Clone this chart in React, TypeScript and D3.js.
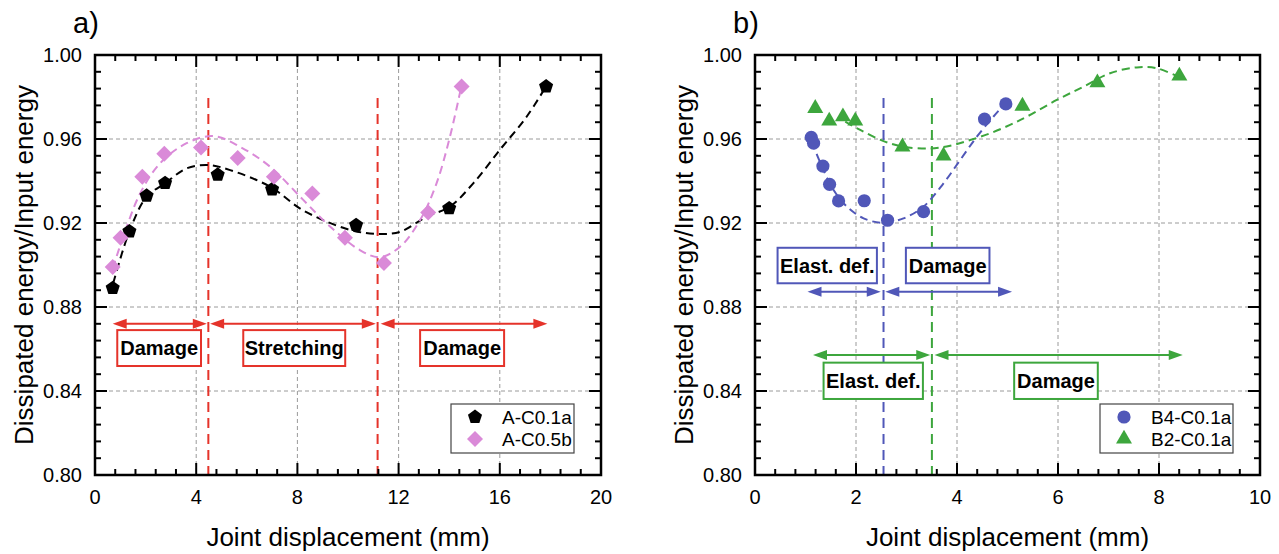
import React from 'react';
import * as d3 from 'd3';

// ---------- data ----------
const xTicksA = [0, 4, 8, 12, 16, 20];
const xTicksB = [0, 2, 4, 6, 8, 10];
const yTicks = [0.8, 0.84, 0.88, 0.92, 0.96, 1.0];

const seriesAC01a: [number, number][] = [
  [0.7, 0.889], [1.36, 0.916], [2.04, 0.933], [2.77, 0.939], [4.85, 0.943],
  [7.0, 0.936], [10.32, 0.919], [14.0, 0.927], [17.83, 0.985],
];
const seriesAC05b: [number, number][] = [
  [0.7, 0.899], [1.01, 0.913], [1.87, 0.942], [2.74, 0.953], [4.19, 0.956],
  [5.64, 0.951], [7.07, 0.942], [8.59, 0.934], [9.88, 0.913], [11.42, 0.901],
  [13.17, 0.925], [14.49, 0.985],
];
const fitAC01a: [number, number][] = [
  [0.72, 0.8913], [1.36, 0.916], [2.04, 0.9325], [2.77, 0.9389], [3.62, 0.946],
  [4.48, 0.9476], [5.34, 0.9452], [6.92, 0.9373], [8.23, 0.926], [10.08, 0.9167],
  [11.2, 0.9148], [12.06, 0.9158], [13.1, 0.923], [14.03, 0.9278], [14.95, 0.9389],
  [16.0, 0.9548], [17.06, 0.9706], [17.8, 0.9845],
];
const fitAC05b: [number, number][] = [
  [0.7, 0.8984], [1.12, 0.9135], [1.78, 0.934], [2.57, 0.9484], [3.62, 0.958],
  [4.68, 0.9614], [5.73, 0.9563], [6.92, 0.9468], [8.23, 0.931], [9.29, 0.9183],
  [10.47, 0.9071], [11.26, 0.9037], [12.06, 0.9087], [12.85, 0.9214], [13.5, 0.9389],
  [14.03, 0.9611], [14.47, 0.9845],
];

const seriesB4C01a: [number, number][] = [
  [1.114, 0.9608], [1.16, 0.958], [1.345, 0.9471], [1.477, 0.9384], [1.655, 0.9305],
  [2.163, 0.9306], [2.625, 0.9213], [3.337, 0.9254], [4.545, 0.9695], [4.967, 0.9767],
];
const seriesB2C01a: [number, number][] = [
  [1.193, 0.9746], [1.47, 0.9686], [1.741, 0.9706], [1.985, 0.9686], [2.92, 0.9563],
  [3.733, 0.952], [5.296, 0.9757], [6.78, 0.9868], [8.403, 0.99],
];
const fitB4C01a: [number, number][] = [
  [1.128, 0.9587], [1.326, 0.9468], [1.556, 0.9357], [1.82, 0.9278], [2.15, 0.9222],
  [2.545, 0.9201], [2.94, 0.9222], [3.337, 0.9278], [3.733, 0.9389], [4.063, 0.95],
  [4.393, 0.9611], [4.72, 0.9706], [4.987, 0.9778],
];
const fitB2C01a: [number, number][] = [
  [1.787, 0.9683], [2.084, 0.9643], [2.545, 0.959], [2.94, 0.9563], [3.47, 0.9555],
  [3.865, 0.9568], [4.26, 0.9595], [4.657, 0.9627], [5.05, 0.9667], [5.38, 0.9706],
  [5.976, 0.9786], [6.503, 0.9849], [7.03, 0.9913], [7.56, 0.9941], [7.955, 0.9937],
  [8.35, 0.99],
];

// region boundaries (x value, top y value)
const regionLinesA = [4.48, 11.17];
const regionLineB4 = 2.545;
const regionLineB2 = 3.503;
const regionTop = 0.9795;

// arrows: [x0, x1] at level y
const arrowsA: [number, number][] = [[0.7, 4.42], [4.55, 11.1], [11.29, 17.88]];
const arrowLevelA = 0.872;
const arrowsB4: [number, number][] = [[1.04, 2.49], [2.58, 5.09]];
const arrowLevelB4 = 0.8873;
const arrowsB2: [number, number][] = [[1.148, 3.47], [3.555, 8.47]];
const arrowLevelB2 = 0.8571;

// boxes: label, x0, x1, yTop, yBottom
const boxesA: [string, number, number, number, number][] = [
  ['Damage', 0.88, 4.19, 0.869, 0.8519],
  ['Stretching', 5.86, 9.89, 0.869, 0.8519],
  ['Damage', 12.85, 16.17, 0.869, 0.8519],
];
const boxesB4: [string, number, number, number, number][] = [
  ['Elast. def.', 0.447, 2.414, 0.9082, 0.8913],
  ['Damage', 2.988, 4.643, 0.9082, 0.8913],
];
const boxesB2: [string, number, number, number, number][] = [
  ['Elast. def.', 1.358, 3.325, 0.8535, 0.8362],
  ['Damage', 5.132, 6.788, 0.8535, 0.8362],
];

// ---------- styles ----------
const FONT = '"Liberation Sans", Arial, Helvetica, sans-serif';
const RED = '#e5332a';
const PINK = '#da8ad8';
const BLUE = '#5057b8';
const GREEN = '#3da63d';
const GRID = '#9a9a9a';

const pentagonType = {
  draw(ctx: any, size: number) {
    const r = Math.sqrt(size / (2.5 * Math.sin((2 * Math.PI) / 5)));
    for (let k = 0; k < 5; k++) {
      const a = -Math.PI / 2 + (k * 2 * Math.PI) / 5;
      const px = r * Math.cos(a);
      const py = r * Math.sin(a);
      if (k === 0) ctx.moveTo(px, py);
      else ctx.lineTo(px, py);
    }
    ctx.closePath();
  },
};
const diamondType = {
  draw(ctx: any, size: number) {
    const h = Math.sqrt(size / 2);
    ctx.moveTo(0, -h);
    ctx.lineTo(h, 0);
    ctx.lineTo(0, h);
    ctx.lineTo(-h, 0);
    ctx.closePath();
  },
};

const shapes: Record<string, { type: any; size: number }> = {
  pentagon: { type: pentagonType, size: 2.5 * Math.sin((2 * Math.PI) / 5) * 7.4 * 7.4 },
  diamond: { type: diamondType, size: 2 * 8 * 8 },
  circle: { type: d3.symbolCircle, size: Math.PI * 6.6 * 6.6 },
  triangle: { type: d3.symbolTriangle, size: (Math.sqrt(3) / 4) * 16 * 16 },
};

type Series = { name: string; data: [number, number][]; fit: [number, number][]; color: string; shape: string };
type Group = { color: string; line: number; arrows: [number, number][]; level: number; boxes: [string, number, number, number, number][] };

type PanelProps = {
  label: string;
  left: number;
  right: number;
  xDomain: [number, number];
  xTicks: number[];
  xMinor: number;
  series: Series[];
  groups: Group[];
  legendWidth: number;
};

const TOP = 55;
const BOTTOM = 475;

function Arrow({ x0, x1, y, color }: { x0: number; x1: number; y: number; color: string }) {
  const L = 14;
  const hh = 5;
  return (
    <g>
      <line x1={x0 + L - 1} x2={x1 - L + 1} y1={y} y2={y} stroke={color} strokeWidth={2} />
      <path d={`M${x0},${y} L${x0 + L},${y - hh} L${x0 + L},${y + hh} Z`} fill={color} />
      <path d={`M${x1},${y} L${x1 - L},${y - hh} L${x1 - L},${y + hh} Z`} fill={color} />
    </g>
  );
}

function Panel({ label, left, right, xDomain, xTicks, xMinor, series, groups, legendWidth }: PanelProps) {
  const x = d3.scaleLinear().domain(xDomain).range([left, right]);
  const y = d3.scaleLinear().domain([0.8, 1.0]).range([BOTTOM, TOP]);
  const line = d3
    .line<[number, number]>()
    .x((d) => x(d[0]))
    .y((d) => y(d[1]))
    .curve(d3.curveCatmullRom.alpha(0.5));

  const xMinorTicks = d3.range(xDomain[0], xDomain[1] + 1e-9, xMinor);
  const yMinorTicks = d3.range(0.8, 1.0 + 1e-9, 0.008);
  const MAJ = 12;
  const MIN = 6;

  const legX = right - 27 - legendWidth;
  const legY = BOTTOM - 22 - 49;

  return (
    <g>
      {/* grid */}
      {xTicks.slice(1, -1).map((t) => (
        <line key={'gx' + t} x1={x(t)} x2={x(t)} y1={TOP} y2={BOTTOM} stroke={GRID} strokeWidth={1} strokeDasharray="4,3" />
      ))}
      {yTicks.slice(1, -1).map((t) => (
        <line key={'gy' + t} x1={left} x2={right} y1={y(t)} y2={y(t)} stroke={GRID} strokeWidth={1} strokeDasharray="4,3" />
      ))}

      {/* region lines */}
      {groups.map((g, i) => (
        <line key={'rl' + i} x1={x(g.line)} x2={x(g.line)} y1={y(regionTop)} y2={BOTTOM} stroke={g.color} strokeWidth={2} strokeDasharray="10,6" />
      ))}

      {/* fits */}
      {series.map((s) => (
        <path key={'fit' + s.name} d={line(s.fit) || ''} fill="none" stroke={s.color} strokeWidth={2} strokeDasharray="8,5" />
      ))}

      {/* markers */}
      {series.map((s) => {
        const sh = shapes[s.shape];
        const sym = d3.symbol().type(sh.type).size(sh.size)();
        return (
          <g key={'m' + s.name}>
            {s.data.map((d, i) => (
              <path key={i} d={sym || ''} transform={`translate(${x(d[0])},${y(d[1])})`} fill={s.color} />
            ))}
          </g>
        );
      })}

      {/* arrows and boxes */}
      {groups.map((g, gi) => (
        <g key={'grp' + gi}>
          {g.arrows.map((a, i) => (
            <Arrow key={i} x0={x(a[0])} x1={x(a[1])} y={y(g.level)} color={g.color} />
          ))}
          {g.boxes.map((b, i) => (
            <g key={'b' + i}>
              <rect x={x(b[1])} y={y(b[3])} width={x(b[2]) - x(b[1])} height={y(b[4]) - y(b[3])} fill="#fff" stroke={g.color} strokeWidth={2} />
              <text
                x={(x(b[1]) + x(b[2])) / 2}
                y={(y(b[3]) + y(b[4])) / 2}
                dy="0.36em"
                textAnchor="middle"
                fontFamily={FONT}
                fontWeight="bold"
                fontSize={20}
                fill="#000"
              >
                {b[0]}
              </text>
            </g>
          ))}
        </g>
      ))}

      {/* legend */}
      <g>
        <rect x={legX} y={legY} width={legendWidth} height={49} fill="#fff" stroke="#444" strokeWidth={1.2} />
        {series.map((s, i) => {
          const sh = shapes[s.shape];
          const sym = d3.symbol().type(sh.type).size(sh.size)();
          const cy = legY + 13 + i * 22;
          return (
            <g key={'leg' + s.name}>
              <path d={sym || ''} transform={`translate(${legX + 24},${cy})`} fill={s.color} />
              <text x={legX + 51} y={cy} dy="0.36em" fontFamily={FONT} fontSize={19} fill="#000">
                {s.name}
              </text>
            </g>
          );
        })}
      </g>

      {/* ticks on all sides */}
      {xMinorTicks.map((t, i) => {
        const major = xTicks.some((m) => Math.abs(m - t) < 1e-6);
        const len = major ? MAJ : MIN;
        return (
          <g key={'xt' + i}>
            <line x1={x(t)} x2={x(t)} y1={BOTTOM} y2={BOTTOM - len} stroke="#000" strokeWidth={2} />
            <line x1={x(t)} x2={x(t)} y1={TOP} y2={TOP + len} stroke="#000" strokeWidth={2} />
          </g>
        );
      })}
      {yMinorTicks.map((t, i) => {
        const major = yTicks.some((m) => Math.abs(m - t) < 1e-6);
        const len = major ? MAJ : MIN;
        return (
          <g key={'yt' + i}>
            <line x1={left} x2={left + len} y1={y(t)} y2={y(t)} stroke="#000" strokeWidth={2} />
            <line x1={right} x2={right - len} y1={y(t)} y2={y(t)} stroke="#000" strokeWidth={2} />
          </g>
        );
      })}
      <rect x={left} y={TOP} width={right - left} height={BOTTOM - TOP} fill="none" stroke="#000" strokeWidth={2.5} />

      {/* tick labels */}
      {xTicks.map((t) => (
        <text key={'xl' + t} x={x(t)} y={504} textAnchor="middle" fontFamily={FONT} fontSize={20} fill="#000">
          {d3.format('d')(t)}
        </text>
      ))}
      {yTicks.map((t) => (
        <text key={'yl' + t} x={left - 13} y={y(t)} dy="0.36em" textAnchor="end" fontFamily={FONT} fontSize={20} fill="#000">
          {d3.format('.2f')(t)}
        </text>
      ))}

      {/* axis titles */}
      <text x={(left + right) / 2} y={546} textAnchor="middle" fontFamily={FONT} fontSize={26} fill="#000">
        Joint displacement (mm)
      </text>
      <text
        transform={`translate(${left - 62},${(TOP + BOTTOM) / 2}) rotate(-90)`}
        textAnchor="middle"
        fontFamily={FONT}
        fontSize={26}
        fill="#000"
      >
        Dissipated energy/Input energy
      </text>
      <text x={left - 22} y={33} fontFamily={FONT} fontSize={29} fill="#000">
        {label}
      </text>
    </g>
  );
}

export default function App() {
  const seriesA: Series[] = [
    { name: 'A-C0.1a', data: seriesAC01a, fit: fitAC01a, color: '#000', shape: 'pentagon' },
    { name: 'A-C0.5b', data: seriesAC05b, fit: fitAC05b, color: PINK, shape: 'diamond' },
  ];
  const seriesB: Series[] = [
    { name: 'B4-C0.1a', data: seriesB4C01a, fit: fitB4C01a, color: BLUE, shape: 'circle' },
    { name: 'B2-C0.1a', data: seriesB2C01a, fit: fitB2C01a, color: GREEN, shape: 'triangle' },
  ];
  const groupsA: Group[] = [
    { color: RED, line: regionLinesA[0], arrows: [], level: arrowLevelA, boxes: [] },
    { color: RED, line: regionLinesA[1], arrows: arrowsA, level: arrowLevelA, boxes: boxesA },
  ];
  const groupsB: Group[] = [
    { color: BLUE, line: regionLineB4, arrows: arrowsB4, level: arrowLevelB4, boxes: boxesB4 },
    { color: GREEN, line: regionLineB2, arrows: arrowsB2, level: arrowLevelB2, boxes: boxesB2 },
  ];
  return (
    <svg width={1279} height={554} style={{ position: 'absolute', left: 0, top: 0, background: '#fff' }}>
      <rect x={0} y={0} width={1279} height={554} fill="#fff" />
      <Panel label="a)" left={95} right={601} xDomain={[0, 20]} xTicks={xTicksA} xMinor={0.8} series={seriesA} groups={groupsA} legendWidth={123} />
      <Panel label="b)" left={755} right={1260} xDomain={[0, 10]} xTicks={xTicksB} xMinor={0.4} series={seriesB} groups={groupsB} legendWidth={133} />
    </svg>
  );
}
